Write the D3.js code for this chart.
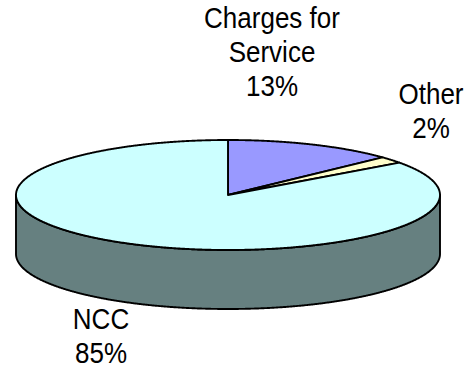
<!DOCTYPE html>
<html>
<head>
<meta charset="utf-8">
<script src="https://cdn.jsdelivr.net/npm/d3@7"></script>
<style>
  html, body { margin: 0; padding: 0; background: #ffffff; }
  svg { display: block; }
  text { font-family: Arial, "Liberation Sans", sans-serif; fill: #000; }
</style>
</head>
<body>
<svg id="chart" width="466" height="366"></svg>
<script>
// Revenue sources, percent of total
const categories = ["Charges for Service", "Other", "NCC"];
const shares = [13, 2, 85];
const labelNames = [["Charges for", "Service"], ["Other"], ["NCC"]];
const topColors = ["#9999FF", "#FFFFCC", "#CCFFFF"];
const wallColors = ["#4D4D80", "#808066", "#668080"];

// Layout of the tilted disc
const W = 466, H = 366;
const cx = 228, cy = 195, rx = 212, ry = 55, depth = 59;
// Label block centres (x) and first baseline (y)
const labelAnchors = [[272, 28], [431, 104], [101, 329]];
const lineStep = 34;
const fontSize = 26;
const stretchY = 1.1; // labels are drawn slightly tall

const svg = d3.select("#chart");

const pie = d3.pie().sort(null).value(d => d)
  .startAngle(0).endAngle(2 * Math.PI);
const arcs = pie(shares);

// Angle measured clockwise from 12 o'clock, projected onto the ellipse
const px = a => cx + rx * Math.sin(a);
const py = a => cy - ry * Math.cos(a);

const line = d3.line();
const step = Math.PI / 720;

function arcPoints(a0, a1, dy) {
  const n = Math.max(2, Math.ceil((a1 - a0) / step));
  return d3.range(n + 1).map(i => {
    const a = a0 + (a1 - a0) * i / n;
    return [px(a), py(a) + dy];
  });
}

// Front walls: only the half facing the viewer (90°..270°)
const frontStart = Math.PI / 2, frontEnd = 3 * Math.PI / 2;
arcs.forEach((d, i) => {
  const a0 = Math.max(d.startAngle, frontStart);
  const a1 = Math.min(d.endAngle, frontEnd);
  if (a1 <= a0) return;
  const topEdge = arcPoints(a0, a1, 0);
  const bottomEdge = arcPoints(a0, a1, depth).reverse();
  svg.append("path")
    .attr("d", line(topEdge.concat(bottomEdge)) + "Z")
    .attr("fill", wallColors[i])
    .attr("stroke", "#000")
    .attr("stroke-width", 1.9)
    .attr("stroke-linejoin", "round");
});

// Top face slices
arcs.forEach((d, i) => {
  const pts = [[cx, cy]].concat(arcPoints(d.startAngle, d.endAngle, 0));
  svg.append("path")
    .attr("d", line(pts) + "Z")
    .attr("fill", topColors[i])
    .attr("stroke", "#000")
    .attr("stroke-width", 1.9)
    .attr("stroke-linejoin", "round");
});

// Data labels: category name plus percentage
arcs.forEach((d, i) => {
  const lines = labelNames[i].concat([shares[i] + "%"]);
  const [lx, ly] = labelAnchors[i];
  const t = svg.append("text")
    .attr("text-anchor", "middle")
    .attr("font-size", fontSize)
    .attr("transform", `translate(${lx},${ly}) scale(1,${stretchY})`);
  lines.forEach((s, k) => {
    t.append("tspan").attr("x", 0).attr("y", k * lineStep / stretchY).text(s);
  });
});
</script>
</body>
</html>
